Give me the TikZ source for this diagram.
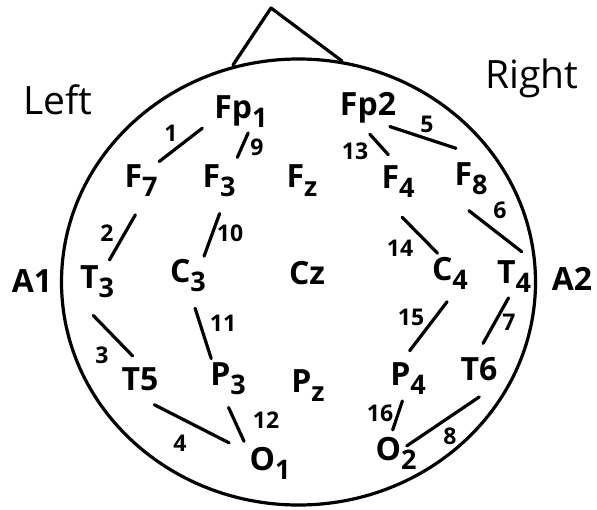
\documentclass[tikz,border=0pt]{standalone}
\usepackage{fontspec}
\setmainfont{Open Sans}
\newcommand{\lo}[1]{\raisebox{-0.3em}{\fontsize{27}{27}\selectfont #1}}

\begin{document}
\begin{tikzpicture}[x=1pt, y=-1pt, line width=3.2pt, line cap=round,
	elec/.style={anchor=base, inner sep=1pt, font=\fontsize{32}{32}\selectfont\bfseries},
	side/.style={anchor=base, inner sep=0pt, font=\fontsize{39}{39}\selectfont},
	num/.style={inner sep=0pt, font=\fontsize{23}{23}\selectfont\bfseries},
	conn/.style 2 args={shorten <=#1, shorten >=#2}]
	
	\useasboundingbox (0,0) rectangle (597,509);
	
	% head and nose
	\draw (298.5,282) ellipse [x radius=237pt, y radius=223pt];
	\coordinate (noseL) at (233,65);
	\coordinate (nose) at (271,8);
	\coordinate (noseR) at (342,61);
	\draw[line join=round] (noseL) -- (nose) -- (noseR);
	
	\node[side] (left) at (58,114) {Left};
	\node[side] (right) at (532,88) {Right};
	
	% electrodes
	\node[elec] (Fp1) at (241,118) {Fp\lo{1}};
	\node[elec] (Fp2) at (368,115) {Fp2};
	\node[elec] (F7) at (141,187) {F\lo{7}};
	\node[elec] (F3) at (219,187) {F\lo{3}};
	\node[elec] (Fz) at (302,187) {F\lo{z}};
	\node[elec] (F4) at (398,188) {F\lo{4}};
	\node[elec] (F8) at (471,185) {F\lo{8}};
	\node[elec] (A1) at (32,292) {A1};
	\node[elec] (T3) at (97,288) {T\lo{3}};
	\node[elec] (C3) at (188,282) {C\lo{3}};
	\node[elec] (Cz) at (307,284) {Cz};
	\node[elec] (C4) at (450,280) {C\lo{4}};
	\node[elec] (T4) at (514,283) {T\lo{4}};
	\node[elec] (A2) at (572,290) {A2};
	\node[elec] (T5) at (140,390) {T5};
	\node[elec] (P3) at (228,385) {P\lo{3}};
	\node[elec] (Pz) at (308,392) {P\lo{z}};
	\node[elec] (P4) at (408,385) {P\lo{4}};
	\node[elec] (T6) at (479,380) {T6};
	\node[elec] (O1) at (270,470) {O\lo{1}};
	\node[elec] (O2) at (396,460) {O\lo{2}};
	
	% channel numbers
	\node[num] (n1) at (171,133) {1};
	\node[num] (n2) at (107,233) {2};
	\node[num] (n3) at (102,355) {3};
	\node[num] (n4) at (180,443) {4};
	\node[num] (n5) at (427,124) {5};
	\node[num] (n6) at (500,210) {6};
	\node[num] (n7) at (509,322) {7};
	\node[num] (n8) at (450,436) {8};
	\node[num] (n9) at (257,147) {9};
	\node[num] (n10) at (230,233) {10};
	\node[num] (n11) at (223,323) {11};
	\node[num] (n12) at (266,420) {12};
	\node[num] (n13) at (355,151) {13};
	\node[num] (n14) at (400,248) {14};
	\node[num] (n15) at (411,317) {15};
	\node[num] (n16) at (380,413) {16};
	
	% left chains
	\draw[conn={0pt}{12pt}] (F7.46) -- (Fp1.198);
	\draw[conn={3pt}{18pt}] (T3.60) -- (F7.-80);
	\draw[conn={21pt}{12pt}] (T3.-134) -- (T5.86);
	\draw[conn={26pt}{20pt}] (T5.-122) -- (O1.154);
	\draw[conn={3pt}{4.5pt}] (Fp1.-66) -- (F3.49);
	\draw[conn={15pt}{0pt}] (F3.-73) -- (C3.50);
	\draw[conn={14.5pt}{1pt}] (C3.-82) -- (P3.131);
	\draw[conn={11pt}{7pt}] (P3.-102) -- (O1.146);
	
	% right chains
	\draw[conn={4pt}{36pt}] (Fp2.-45) -- (F8.north east);
	\draw[conn={21.5pt}{9.5pt}] (F8.south west) -- (T4.51);
	\draw[conn={3pt}{12.5pt}] (T4.-102) -- (T6.98);
	\draw[conn={25pt}{13pt}] (T6.south east) -- (O2.center);
	\draw[conn={12pt}{10.5pt}] (Fp2.-109) -- (F4.98);
	\draw[conn={24pt}{1.5pt}] (F4.-124) -- (C4.121);
	\draw[conn={12pt}{11pt}] (C4.-77) -- (P4.105);
	\draw[conn={4pt}{4.5pt}] (P4.-103) -- (O2.104);
	
\end{tikzpicture}
\end{document}
